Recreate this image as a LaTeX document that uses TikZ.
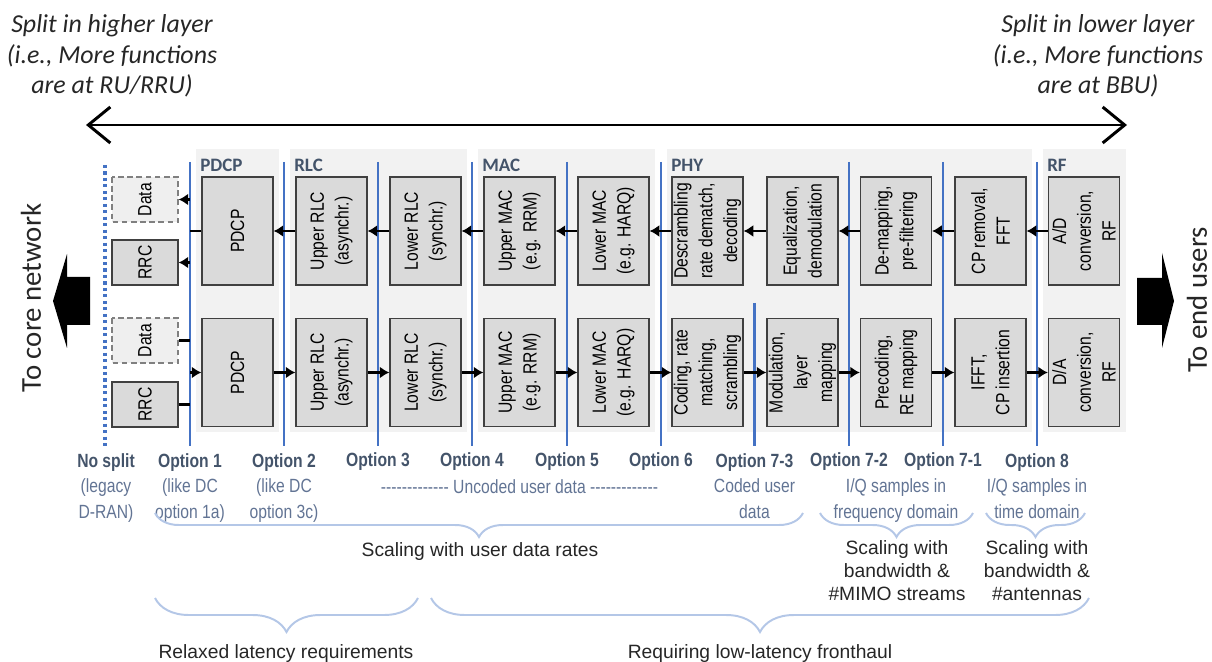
\documentclass[tikz,border=0pt]{standalone}
\usepackage{fontspec}
\setmainfont{Liberation Sans}
\newfontfamily\narrowfont[FakeStretch=0.82]{Liberation Sans}
\newfontfamily\calfont{Carlito}
\usepackage{tikz}
\usetikzlibrary{arrows.meta,decorations.pathreplacing}

\definecolor{splitblue}{HTML}{4472C4}
\definecolor{labelgray}{HTML}{44546A}
\definecolor{subgray}{HTML}{627494}
\definecolor{bracecol}{HTML}{B4C7E7}
\definecolor{panelbg}{HTML}{F2F2F2}
\definecolor{boxfill}{HTML}{DADADA}
\definecolor{boxline}{HTML}{404040}
\definecolor{databg}{HTML}{EFEFEF}
\definecolor{textdark}{HTML}{262626}

\newcommand{\boxfont}{\narrowfont\fontsize{13.6}{17.6}\selectfont}
\newcommand{\optfont}{\narrowfont\fontsize{13.6}{18}\selectfont}
\newcommand{\bracefont}{\fontsize{13.7}{16.3}\selectfont}
\newcommand{\titlefont}{\calfont\itshape\fontsize{18.4}{22}\selectfont}
\newcommand{\layerfont}{\calfont\bfseries\fontsize{13.5}{16}\selectfont}
\newcommand{\sidefont}{\calfont\fontsize{20.5}{24}\selectfont}

\tikzset{
  fbox/.style={draw=boxline, fill=boxfill, line width=0.9pt, rotate=90,
    minimum width=2.7cm, minimum height=1.775cm, inner sep=1pt,
    align=center, font=\boxfont},
  sbox/.style={fbox, minimum width=1.125cm, minimum height=1.65cm},
  dbox/.style={sbox, draw=gray, fill=databg, dash pattern=on 4pt off 2.5pt},
  flow/.style={line width=1.8pt, -{Latex[length=2.4mm,width=3mm]}},
  link/.style={line width=1.8pt},
  splitline/.style={draw=splitblue, line width=1.8pt},
  panel/.style={fill=panelbg},
  layer/.style={anchor=west, inner sep=0pt, text=labelgray, font=\layerfont},
  optlab/.style={anchor=base, inner sep=0pt, align=center, text=labelgray, font=\optfont},
  brc/.style={draw=bracecol, line width=1.4pt, decorate,
    decoration={brace,mirror,amplitude=#1}},
  bracelab/.style={anchor=base, inner sep=0pt, align=center, text=textdark, font=\bracefont}
}

\begin{document}
\begin{tikzpicture}[x=0.025cm, y=-0.025cm]
\useasboundingbox (0,0) rectangle (1212,662);

% Direction of the split (base = last line)
\path
(112,94) node[anchor=base, align=center, text=textdark, font=\titlefont] (hititle)
  {Split in higher layer\\(i.e., More functions\\are at RU/RRU)}
(1098,94) node[anchor=base, align=center, text=textdark, font=\titlefont] (lotitle)
  {Split in lower layer\\(i.e., More functions\\are at BBU)};
\coordinate (lend) at (86,125);
\coordinate (rend) at (1127,125);
\draw[line width=2.1pt, {Straight Barb[length=5.5mm,width=9mm]}-{Straight Barb[length=5.5mm,width=9mm]}] (lend) -- (rend);

% Layer panels
\fill[panel] (196,149) rectangle (279,432);
\fill[panel] (290,149) rectangle (467,432);
\fill[panel] (478,149) rectangle (655,432);
\fill[panel] (667,149) rectangle (1032,432);
\fill[panel] (1043,149) rectangle (1126,432);
\path
(200,165) node[layer] (pdcplab) {PDCP}
(294,165) node[layer] (rlclab) {RLC}
(482,165) node[layer] (maclab) {MAC}
(671,165) node[layer] (phylab) {PHY}
(1047,165) node[layer] (rflab) {RF};

% Split lines
\coordinate (o0t) at (105,165);  \coordinate (o0b) at (105,446);
\coordinate (o1t) at (190,162);  \coordinate (o1b) at (190,446);
\coordinate (o2t) at (284,162);  \coordinate (o2b) at (284,446);
\coordinate (o3t) at (378,162);  \coordinate (o3b) at (378,446);
\coordinate (o4t) at (472,162);  \coordinate (o4b) at (472,446);
\coordinate (o5t) at (567,162);  \coordinate (o5b) at (567,446);
\coordinate (o6t) at (661,162);  \coordinate (o6b) at (661,446);
\coordinate (o73t) at (754.5,303); \coordinate (o73b) at (754.5,446);
\coordinate (o72t) at (849,162); \coordinate (o72b) at (849,446);
\coordinate (o71t) at (943,162); \coordinate (o71b) at (943,446);
\coordinate (o8t) at (1037,162); \coordinate (o8b) at (1037,446);

\draw[splitline, line width=2.2pt, dash pattern=on 2.2pt off 2.4pt] (o0t) -- (o0b);
\draw[splitline] (o1t) -- (o1b);
\draw[splitline] (o2t) -- (o2b);
\draw[splitline] (o3t) -- (o3b);
\draw[splitline] (o4t) -- (o4b);
\draw[splitline] (o5t) -- (o5b);
\draw[splitline] (o6t) -- (o6b);
\draw[splitline] (o73t) -- (o73b);
\draw[splitline] (o72t) -- (o72b);
\draw[splitline] (o71t) -- (o71b);
\draw[splitline] (o8t) -- (o8b);

% Receive chain (upper row)
\path
(145,199.5) node[dbox] (dataT) {Data}
(145,262.5) node[sbox] (rrcT) {RRC}
(237.5,231) node[fbox] (pdcpT) {PDCP}
(331.5,231) node[fbox] (urlcT) {Upper RLC\\(asynchr.)}
(425.5,231) node[fbox] (lrlcT) {Lower RLC\\(synchr.)}
(519.5,231) node[fbox] (umacT) {Upper MAC\\(e.g. RRM)}
(613.5,231) node[fbox] (lmacT) {Lower MAC\\(e.g. HARQ)}
(707.5,231) node[fbox] (descT) {Descrambling\\rate dematch,\\decoding}
(802.5,231) node[fbox] (eqT) {Equalization,\\demodulation}
(896,231) node[fbox] (demapT) {De-mapping,\\pre-filtering}
(990.5,231) node[fbox] (cprT) {CP removal,\\FFT}
(1084,231) node[fbox] (adT) {A/D\\conversion,\\RF};

\draw[flow] (adT.north) -- (cprT.south);
\draw[flow] (cprT.north) -- (demapT.south);
\draw[flow] (demapT.north) -- (eqT.south);
\draw[flow] (eqT.north) -- (descT.south);
\draw[flow] (descT.north) -- (lmacT.south);
\draw[flow] (lmacT.north) -- (umacT.south);
\draw[flow] (umacT.north) -- (lrlcT.south);
\draw[flow] (lrlcT.north) -- (urlcT.south);
\draw[flow] (urlcT.north) -- (pdcpT.south);
\draw[link] (pdcpT.north) -- (pdcpT.north -| o1t);
\draw[flow] (dataT.south -| o1t) -- (dataT.south);
\draw[flow] (rrcT.south -| o1t) -- (rrcT.south);

% Transmit chain (lower row)
\path
(145,340.5) node[dbox] (dataB) {Data}
(145,404.5) node[sbox] (rrcB) {RRC}
(237.5,372.5) node[fbox] (pdcpB) {PDCP}
(331.5,372.5) node[fbox] (urlcB) {Upper RLC\\(asynchr.)}
(425.5,372.5) node[fbox] (lrlcB) {Lower RLC\\(synchr.)}
(519.5,372.5) node[fbox] (umacB) {Upper MAC\\(e.g. RRM)}
(613.5,372.5) node[fbox] (lmacB) {Lower MAC\\(e.g. HARQ)}
(707.5,372.5) node[fbox] (codB) {Coding, rate\\matching,\\scrambling}
(802.5,372.5) node[fbox] (modB) {Modulation,\\layer\\mapping}
(896,372.5) node[fbox] (precB) {Precoding,\\RE mapping}
(990.5,372.5) node[fbox] (ifftB) {IFFT,\\CP insertion}
(1084,372.5) node[fbox] (daB) {D/A\\conversion,\\RF};

\draw[link] (dataB.south) -- (dataB.south -| o1t);
\draw[link] (rrcB.south) -- (rrcB.south -| o1t);
\draw[flow] (pdcpB.north -| o1t) -- (pdcpB.north);
\draw[flow] (pdcpB.south) -- (urlcB.north);
\draw[flow] (urlcB.south) -- (lrlcB.north);
\draw[flow] (lrlcB.south) -- (umacB.north);
\draw[flow] (umacB.south) -- (lmacB.north);
\draw[flow] (lmacB.south) -- (codB.north);
\draw[flow] (codB.south) -- (modB.north);
\draw[flow] (modB.south) -- (precB.north);
\draw[flow] (precB.south) -- (ifftB.north);
\draw[flow] (ifftB.south) -- (daB.north);

% Core and user side
\fill (90,277) -- (67,277) -- (67,254) -- (53,301) -- (67,348) -- (67,325) -- (90,325) -- cycle;
\fill (1137,278) -- (1162,278) -- (1162,253) -- (1174,301) -- (1162,348) -- (1162,325) -- (1137,325) -- cycle;
\path
(31,298) node[rotate=90, font=\sidefont, text=textdark] (core) {To core network}
(1197,300) node[rotate=90, font=\sidefont, text=textdark] (users) {To end users};

% Split options (base = last line)
\path
(106,518) node[optlab] (opt0) {\textbf{No split}\\{\color{subgray}(legacy}\\{\color{subgray}D-RAN)}}
(190,518) node[optlab] (opt1) {\textbf{Option 1}\\{\color{subgray}(like DC}\\{\color{subgray}option 1a)}}
(284,518) node[optlab] (opt2) {\textbf{Option 2}\\{\color{subgray}(like DC}\\{\color{subgray}option 3c)}}
(378,467) node[optlab] (opt3) {\textbf{Option 3}}
(472,467) node[optlab] (opt4) {\textbf{Option 4}}
(567,467) node[optlab] (opt5) {\textbf{Option 5}}
(661,467) node[optlab] (opt6) {\textbf{Option 6}}
(754.5,518) node[optlab] (opt73) {\textbf{Option 7-3}\\{\color{subgray}Coded user}\\{\color{subgray}data}}
(849,467) node[optlab] (opt72) {\textbf{Option 7-2}}
(943,467) node[optlab] (opt71) {\textbf{Option 7-1}}
(1037,518) node[optlab] (opt8) {\textbf{Option 8}\\{\color{subgray}I/Q samples in}\\{\color{subgray}time domain}}
(896,518) node[optlab, text=subgray] (freqlab) {I/Q samples in\\frequency domain}
(519.5,493) node[optlab, text=subgray] (uncoded) {------------- Uncoded user data -------------};

% Braces
\draw[brc=0.6cm] (155,513) -- (803,513);
\draw[brc=0.6cm] (820,513) -- (973,513);
\draw[brc=0.6cm] (986,513) -- (1085,513);
\draw[brc=0.85cm] (155,598) -- (418,598);
\draw[brc=0.85cm] (431,598) -- (1089,598);
\path
(480,556) node[bracelab] (ratelab) {Scaling with user data rates}
(897,600) node[bracelab] (mimolab) {Scaling with\\bandwidth \&\\\#MIMO streams}
(1037,600) node[bracelab] (antlab) {Scaling with\\bandwidth \&\\\#antennas}
(286,658) node[bracelab] (relaxlab) {Relaxed latency requirements}
(760,658) node[bracelab] (fhlab) {Requiring low-latency fronthaul};

\end{tikzpicture}
\end{document}
